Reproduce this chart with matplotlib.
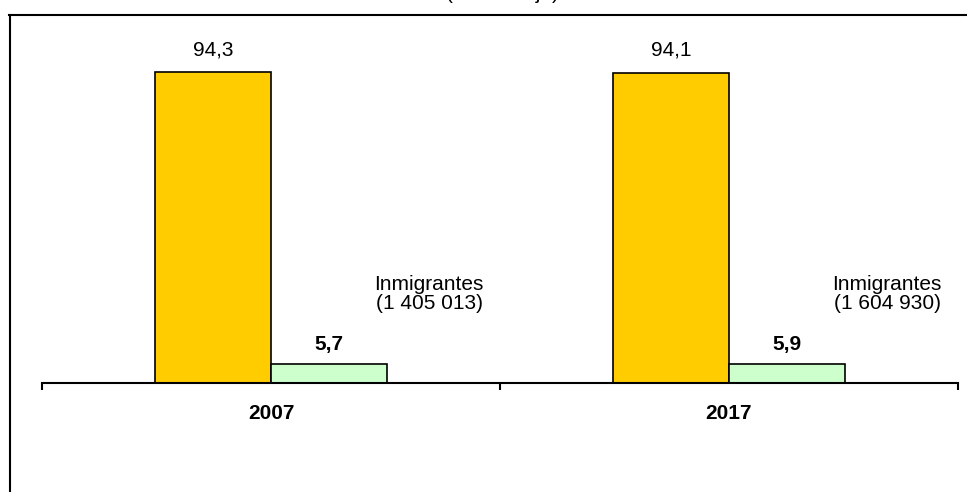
import numpy as np
import matplotlib.pyplot as plt
from matplotlib.lines import Line2D

plt.rcParams['font.family'] = ['Liberation Sans', 'DejaVu Sans']

years = ['2007', '2017']
nativos = [94.3, 94.1]
inmigrantes = [5.7, 5.9]
inmig_abs = ['1 405 013', '1 604 930']

W, H = 967, 492
fig = plt.figure(figsize=(W / 100, H / 100), dpi=100)
ax = fig.add_axes([42 / W, (H - 383) / H, (958 - 42) / W, (383 - 15) / H])

x = np.arange(len(years)) + 0.5
bw = 116 / 458

ax.bar(x - bw / 2, nativos, bw, color='#FFCC00', edgecolor='black', linewidth=1.2)
ax.bar(x + bw / 2, inmigrantes, bw, color='#CCFFCC', edgecolor='black', linewidth=1.2)

def fmt(v):
    return f'{v:.1f}'.replace('.', ',')

for i in range(len(years)):
    ax.annotate(fmt(nativos[i]), (x[i] - bw / 2, nativos[i]), xytext=(0, 16),
                textcoords='offset points', ha='center', va='center', fontsize=15)
    ax.annotate(fmt(inmigrantes[i]), (x[i] + bw / 2, inmigrantes[i]), xytext=(0, 14),
                textcoords='offset points', ha='center', va='center', fontsize=15,
                fontweight='bold')
    ax.text(x[i] + 0.345, 27, f'Inmigrantes\n({inmig_abs[i]})', ha='center', va='center',
            fontsize=15, multialignment='center', linespacing=1.05)

ax.set_xlim(0, len(years))
ax.set_ylim(0, 368 / (311 / 94.3))
ax.set_xticks([0, 1, 2])
ax.set_xticklabels([])
ax.set_xticks(x, minor=True)
ax.set_xticklabels(years, minor=True, fontsize=15, fontweight='bold')
ax.tick_params(axis='x', which='major', length=5, width=1.5, direction='out')
ax.tick_params(axis='x', which='minor', length=0, pad=15)
ax.set_yticks([])
for s in ['left', 'right', 'top']:
    ax.spines[s].set_visible(False)
ax.spines['bottom'].set_linewidth(1.5)

# outer frame (left and top only visible)
fig.add_artist(Line2D([9.5 / W, 9.5 / W], [0, (H - 15) / H], color='black', lw=1.5,
                      transform=fig.transFigure))
fig.add_artist(Line2D([9 / W, 1], [(H - 15) / H, (H - 15) / H], color='black', lw=1.5,
                      transform=fig.transFigure))
# subtitle sits mostly above the visible area, as in the source image
fig.text(503 / W, 1 + 1 / H, '(Porcentaje)', ha='center', va='baseline', fontsize=15)

fig.savefig('out.png', dpi=100)
